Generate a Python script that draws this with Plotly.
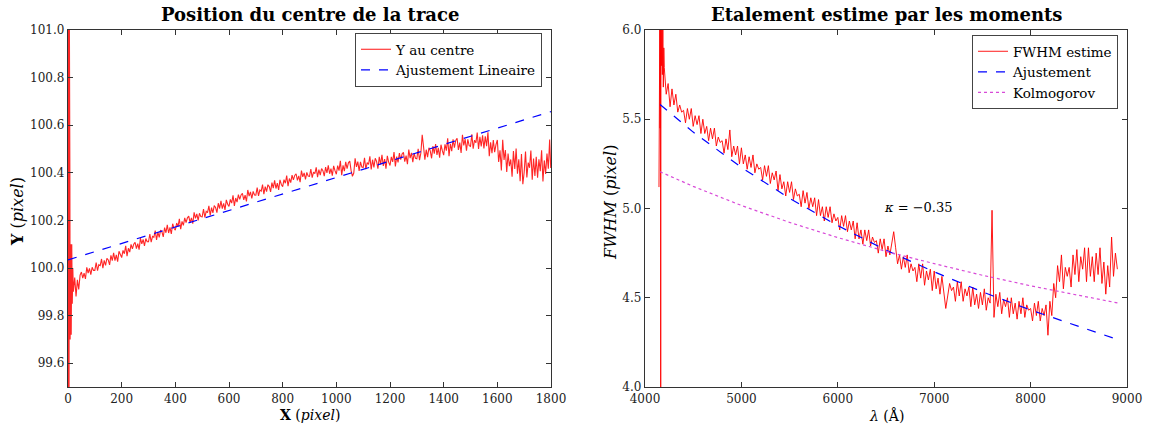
import plotly.graph_objects as go

# ---------------- Left panel: position of trace centre ----------------
x_start = [0, 1, 2, 3, 4, 5, 6, 7, 8, 10, 12, 14, 16, 18]
y_start = [99.3, 101.5, 99.4, 101.2, 99.45, 101.1, 99.6, 100.4, 99.7, 100.1, 99.72, 100.1, 99.85, 100.0]

x_main = list(range(20, 1800, 5))
y_main = [
    99.90, 99.96, 99.88, 99.95, 99.91, 99.97,
    99.983, 99.957, 99.978, 99.954, 100.003, 99.979, 99.998, 99.972, 100.003, 99.990,
    99.990, 100.023, 99.989, 100.014, 100.010, 100.038, 99.999, 100.032, 100.011, 100.041,
    100.034, 100.013, 100.053, 100.031, 100.064, 100.031, 100.055, 100.027, 100.070, 100.052,
    100.044, 100.074, 100.060, 100.093, 100.050, 100.083, 100.067, 100.099, 100.080, 100.100,
    100.108, 100.081, 100.102, 100.077, 100.126, 100.101, 100.120, 100.093, 100.124, 100.110,
    100.110, 100.143, 100.109, 100.133, 100.129, 100.157, 100.118, 100.151, 100.129, 100.159,
    100.152, 100.131, 100.170, 100.148, 100.181, 100.147, 100.171, 100.143, 100.186, 100.167,
    100.159, 100.189, 100.174, 100.207, 100.163, 100.196, 100.179, 100.211, 100.191, 100.211,
    100.218, 100.191, 100.211, 100.186, 100.234, 100.209, 100.227, 100.200, 100.230, 100.216,
    100.215, 100.248, 100.213, 100.238, 100.233, 100.261, 100.221, 100.254, 100.232, 100.262,
    100.254, 100.233, 100.272, 100.250, 100.282, 100.249, 100.272, 100.244, 100.286, 100.268,
    100.259, 100.288, 100.273, 100.305, 100.261, 100.294, 100.277, 100.308, 100.288, 100.307,
    100.314, 100.286, 100.306, 100.280, 100.328, 100.302, 100.320, 100.292, 100.322, 100.307,
    100.306, 100.338, 100.303, 100.328, 100.323, 100.350, 100.310, 100.342, 100.321, 100.350,
    100.342, 100.320, 100.359, 100.336, 100.368, 100.334, 100.357, 100.328, 100.370, 100.351,
    100.342, 100.371, 100.356, 100.388, 100.344, 100.376, 100.359, 100.390, 100.370, 100.389,
    100.396, 100.368, 100.387, 100.361, 100.409, 100.383, 100.400, 100.372, 100.402, 100.386,
    100.385, 100.416, 100.380, 100.403, 100.397, 100.423, 100.382, 100.413, 100.390, 100.418,
    100.409, 100.386, 100.424, 100.400, 100.431, 100.396, 100.418, 100.388, 100.429, 100.409,
    100.394, 100.430, 100.409, 100.450, 100.390, 100.431, 100.407, 100.446, 100.418, 100.442,
    100.449, 100.410, 100.385, 100.399, 100.461, 100.425, 100.447, 100.408, 100.446, 100.424,
    100.422, 100.463, 100.415, 100.443, 100.435, 100.469, 100.414, 100.455, 100.423, 100.461,
    100.448, 100.417, 100.467, 100.435, 100.476, 100.429, 100.458, 100.417, 100.471, 100.445,
    100.431, 100.467, 100.446, 100.487, 100.427, 100.468, 100.444, 100.483, 100.455, 100.479,
    100.486, 100.447, 100.472, 100.436, 100.498, 100.462, 100.484, 100.445, 100.483, 100.461,
    100.459, 100.501, 100.453, 100.483, 100.560, 100.510, 100.455, 100.497, 100.466, 100.505,
    100.492, 100.461, 100.512, 100.480, 100.521, 100.475, 100.505, 100.464, 100.518, 100.493,
    100.474, 100.520, 100.493, 100.545, 100.470, 100.522, 100.491, 100.541, 100.506, 100.536,
    100.545, 100.496, 100.527, 100.483, 100.560, 100.515, 100.542, 100.493, 100.541, 100.514,
    100.511, 100.562, 100.501, 100.537, 100.526, 100.569, 100.500, 100.551, 100.511, 100.558,
    100.502, 100.553, 100.512, 100.570, 100.470, 100.528, 100.482, 100.538, 100.487, 100.518,
    100.538, 100.446, 100.495, 100.410, 100.539, 100.454, 100.496, 100.404, 100.481, 100.428,
    100.456, 100.384, 100.491, 100.416, 100.502, 100.396, 100.457, 100.365, 100.479, 100.352,
    100.402, 100.489, 100.380, 100.443, 100.421, 100.494, 100.371, 100.460, 100.387, 100.467,
    100.379, 100.457, 100.407, 100.495, 100.364, 100.452, 100.395, 100.481, 100.417, 100.540,
]
x_tail = [1799]
y_tail = [100.42]

fit_left_x = [0, 1800]
fit_left_y = [100.034, 100.657]

# ---------------- Right panel: FWHM vs wavelength ----------------
lam_start = [4145, 4148, 4151, 4154, 4157, 4160, 4163, 4166, 4170, 4175, 4180, 4185, 4190, 4195]
fwhm_start = [5.12, 6.1, 5.6, 6.1, 5.45, 6.1, 3.9, 6.1, 5.8, 6.1, 5.75, 6.05, 5.68, 5.9]

lam_main = list(range(4200, 8901, 20))
fwhm_main = [
    5.79, 5.64, 5.70, 5.57, 5.67,
    5.58, 5.64, 5.54, 5.58, 5.54,
    5.55, 5.48, 5.56, 5.50, 5.56,
    5.46, 5.52, 5.47, 5.52, 5.42,
    5.50, 5.42, 5.46, 5.38, 5.45,
    5.39, 5.45, 5.35, 5.40, 5.37,
    5.38, 5.31, 5.39, 5.33, 5.44,
    5.29, 5.35, 5.30, 5.35, 5.25,
    5.34, 5.25, 5.30, 5.22, 5.29,
    5.23, 5.30, 5.20, 5.25, 5.22,
    5.23, 5.16, 5.24, 5.18, 5.24,
    5.14, 5.20, 5.16, 5.21, 5.10,
    5.19, 5.11, 5.15, 5.07, 5.15,
    5.09, 5.15, 5.05, 5.11, 5.07,
    5.08, 5.01, 5.10, 5.03, 5.09,
    5.00, 5.06, 5.01, 5.06, 4.96,
    5.05, 4.96, 5.01, 4.93, 5.01,
    4.95, 5.01, 4.92, 4.97, 4.93,
    4.95, 4.88, 4.96, 4.90, 4.96,
    4.87, 4.93, 4.88, 4.93, 4.83,
    4.92, 4.83, 4.88, 4.80, 4.88,
    4.82, 4.88, 4.79, 4.84, 4.81,
    4.82, 4.75, 4.83, 4.77, 4.83,
    4.73, 4.79, 4.74, 4.80, 4.87,
    4.78, 4.69, 4.74, 4.66, 4.73,
    4.67, 4.74, 4.64, 4.69, 4.65,
    4.67, 4.59, 4.69, 4.61, 4.69,
    4.57, 4.65, 4.60, 4.66, 4.54,
    4.65, 4.55, 4.61, 4.52, 4.62,
    4.54, 4.44, 4.51, 4.58, 4.54,
    4.56, 4.48, 4.59, 4.51, 4.59,
    4.48, 4.55, 4.51, 4.56, 4.45,
    4.56, 4.46, 4.52, 4.44, 4.53,
    4.46, 4.55, 4.43, 4.50, 4.47,
    4.99, 4.39, 4.52, 4.45, 4.53,
    4.41, 4.49, 4.45, 4.50, 4.39,
    4.50, 4.41, 4.47, 4.38, 4.48,
    4.41, 4.50, 4.39, 4.46, 4.43,
    4.44, 4.37, 4.47, 4.40, 4.48,
    4.37, 4.44, 4.40, 4.46, 4.29,
    4.48, 4.40, 4.58, 4.50, 4.68,
    4.59, 4.74, 4.55, 4.67, 4.62,
    4.67, 4.56, 4.74, 4.63, 4.77,
    4.59, 4.73, 4.66, 4.78, 4.59,
    4.78, 4.62, 4.73, 4.59, 4.75,
    4.63, 4.78, 4.58, 4.70, 4.52,
    4.68, 4.56, 4.84, 4.62, 4.75,
    4.66,
]

fit_lam = [4156, 4500, 5000, 5500, 6000, 6500, 7000, 7500, 8000, 8500, 8858]
fit_fwhm = [5.583, 5.428, 5.230, 5.057, 4.904, 4.767, 4.645, 4.533, 4.431, 4.337, 4.274]

kolmo_lam = [4156, 4500, 5000, 5500, 6000, 6500, 7000, 7500, 8000, 8500, 8910]
kolmo_fwhm = [5.206, 5.124, 5.017, 4.922, 4.837, 4.760, 4.691, 4.626, 4.567, 4.512, 4.470]

kappa_label = "<i>κ</i> = −0.35"
kappa_pos = (6832, 5.005)

# ---------------- Figure ----------------
W, H = 1164, 426
FONT = "DejaVu Serif, Liberation Serif, serif"


def px(x):
    return x / W


def py(y):
    return 1 - y / H


fig = go.Figure()

fig.add_trace(go.Scatter(
    x=x_start + x_main + x_tail, y=y_start + y_main + y_tail,
    mode="lines", name="Y au centre",
    line=dict(color="rgba(255,0,0,0.85)", width=1.1),
    xaxis="x", yaxis="y", legend="legend"))
fig.add_trace(go.Scatter(
    x=fit_left_x, y=fit_left_y, mode="lines", name="Ajustement Lineaire",
    line=dict(color="blue", width=1.2, dash="dash"),
    xaxis="x", yaxis="y", legend="legend"))

fig.add_trace(go.Scatter(
    x=lam_start + lam_main, y=fwhm_start + fwhm_main,
    mode="lines", name="FWHM estime",
    line=dict(color="rgba(255,0,0,0.9)", width=1.0),
    xaxis="x2", yaxis="y2", legend="legend2"))
fig.add_trace(go.Scatter(
    x=fit_lam, y=fit_fwhm, mode="lines", name="Ajustement",
    line=dict(color="blue", width=1.2, dash="dash"),
    xaxis="x2", yaxis="y2", legend="legend2"))
fig.add_trace(go.Scatter(
    x=kolmo_lam, y=kolmo_fwhm, mode="lines", name="Kolmogorov",
    line=dict(color="#d84ad8", width=1.2, dash="dot"),
    xaxis="x2", yaxis="y2", legend="legend2"))

axis_common = dict(
    showline=True, linecolor="#333", linewidth=1.4, mirror="allticks",
    ticks="inside", ticklen=5, tickcolor="#333", tickwidth=1,
    showgrid=False, zeroline=False, automargin=False,
    tickfont=dict(family=FONT, size=12, color="#222"),
)

fig.update_layout(
    template="none",
    width=W, height=H,
    margin=dict(l=0, r=0, t=0, b=0, pad=0),
    paper_bgcolor="white", plot_bgcolor="white",
    font=dict(family=FONT, color="black"),
    xaxis=dict(domain=[px(68), px(551)], range=[0, 1800], anchor="y",
               tickvals=[0, 200, 400, 600, 800, 1000, 1200, 1400, 1600, 1800], **axis_common),
    yaxis=dict(domain=[py(387), py(30)], range=[99.5, 101.0], anchor="x",
               tickvals=[99.6, 99.8, 100.0, 100.2, 100.4, 100.6, 100.8, 101.0],
               tickformat=".1f", **axis_common),
    xaxis2=dict(domain=[px(645), px(1127)], range=[4000, 9000], anchor="y2",
                tickvals=[4000, 5000, 6000, 7000, 8000, 9000], **axis_common),
    yaxis2=dict(domain=[py(387), py(30)], range=[4.0, 6.0], anchor="x2",
                tickvals=[4.0, 4.5, 5.0, 5.5, 6.0], tickformat=".1f", **axis_common),
    legend=dict(x=px(542), y=py(33), xanchor="right", yanchor="top",
                bgcolor="white", bordercolor="#444", borderwidth=1, itemwidth=30,
                font=dict(family=FONT, size=13.5), tracegroupgap=0),
    legend2=dict(x=px(1118), y=py(35), xanchor="right", yanchor="top",
                 bgcolor="white", bordercolor="#444", borderwidth=1, itemwidth=30,
                 font=dict(family=FONT, size=13.5), tracegroupgap=0),
    showlegend=True,
)


def label(text, x, y, size, angle=0, xref="paper", yref="paper"):
    return dict(text=text, x=x, y=y, xref=xref, yref=yref, showarrow=False,
                xanchor="center", yanchor="middle", textangle=angle,
                font=dict(size=size, family=FONT, color="black"))


annos = [
    label("<b>Position du centre de la trace</b>", px(310), py(15), 18),
    label("<b>Etalement estime par les moments</b>", px(886), py(14), 18),
    label("<b>X</b> (<i>pixel</i>)", px(310), py(415), 14),
    label("<b>Y</b> (<i>pixel</i>)", px(17), py(212), 16, angle=-90),
    label("<i>λ</i> (Å)", px(886), py(415), 14),
    label("<i>FWHM</i> (<i>pixel</i>)", px(610), py(203), 16, angle=-90),
    label(kappa_label, kappa_pos[0], kappa_pos[1], 13, xref="x2", yref="y2"),
]
fig.update_layout(annotations=annos)

fig.write_html(
    "out.html",
    config={"displayModeBar": False},
    post_script="document.body.style.margin='0';document.body.style.overflow='hidden';",
)
